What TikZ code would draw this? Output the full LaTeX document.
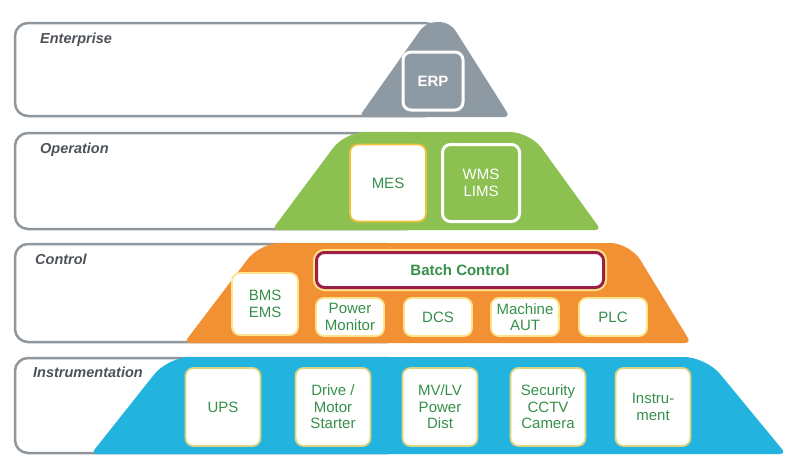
\documentclass[tikz,border=0pt]{standalone}
\usepackage{fontspec}
\setmainfont{Liberation Sans}
\definecolor{bandgray}{HTML}{8F979D}
\definecolor{entgray}{HTML}{8E9AA3}
\definecolor{opgreen}{HTML}{8CC152}
\definecolor{ctlorange}{HTML}{F29133}
\definecolor{insblue}{HTML}{22B3DF}
\definecolor{itemgreen}{HTML}{37904A}
\definecolor{labelgray}{HTML}{4D5259}
\definecolor{batchred}{HTML}{9C1F47}
\definecolor{opgold}{HTML}{EFC23E}
\definecolor{ctlyellow}{HTML}{FDE38C}
\definecolor{insyellow}{HTML}{DCD47E}
\tikzset{%
  band/.style     = {draw=bandgray, line width=2.5pt, rounded corners=13pt},%
  tiername/.style = {anchor=base west, inner sep=0pt, text=labelgray,%
                     font=\fontsize{14.5}{16}\selectfont\bfseries\itshape},%
  item/.style     = {shape=rectangle, rounded corners=8pt, draw, line width=1.8pt,%
                     fill=white, text=itemgreen, align=center, inner sep=0pt,%
                     font=\fontsize{15}{16.5}\selectfont},%
  invitem/.style  = {item, draw=white, line width=3pt, text=white},%
  opbox/.style    = {item, draw=opgold, minimum width=76pt, minimum height=77pt},%
  ctlbox/.style   = {item, draw=ctlyellow, minimum width=68pt, minimum height=38pt},%
  insbox/.style   = {item, draw=insyellow, minimum width=75pt, minimum height=78pt},%
  batchbox/.style = {item, draw=batchred, line width=3pt, font=\fontsize{15}{16}\selectfont\bfseries,%
                     preaction={draw=ctlyellow, line width=7pt}}%
}

\begin{document}
\begin{tikzpicture}[x=1pt,y=-1pt]
	\useasboundingbox (0,0) rectangle (800,475);
	% enterprise
	\draw[band] (15,23) rectangle (438,116);
	\fill[entgray] (435,117) [rounded corners=6pt] -- (359,117) [rounded corners=10pt] -- (426,22) -- (450,22) [rounded corners=6pt] -- (510,117) -- cycle;
	\node[tiername] (ent) at (40,43) {Enterprise};
	\node[invitem, fill=entgray, minimum width=60pt, minimum height=58pt, font=\fontsize{15}{16}\selectfont\bfseries] (erp) at (433,81) {ERP};
	% operation
	\draw[band] (15,133) rectangle (420,229);
	\fill[opgreen] (436,230) [rounded corners=6pt] -- (272,230) [rounded corners=20pt] -- (345,132) -- (530,132) [rounded corners=6pt] -- (601,230) -- cycle;
	\node[tiername] (op) at (40,153) {Operation};
	\node[opbox] (mes) at (388,183) {MES};
	\node[invitem, fill=opgreen, minimum width=77pt, minimum height=77pt] (wms) at (481,183) {WMS\\LIMS};
	% control
	\draw[band] (15,244) rectangle (400,342);
	\fill[ctlorange] (437,343) [rounded corners=6pt] -- (184,343) [rounded corners=20pt] -- (260,243) -- (630,243) [rounded corners=6pt] -- (691,343) -- cycle;
	\node[tiername] (ctl) at (35,264) {Control};
	\node[batchbox, minimum width=287pt, minimum height=35pt] (batch) at (460,270) {Batch Control};
	\node[ctlbox, minimum width=66pt, minimum height=62pt] (bms) at (265,304) {BMS\\EMS};
	\node[ctlbox] (pwr) at (350,317) {Power\\Monitor};
	\node[ctlbox] (dcs) at (438,317) {DCS};
	\node[ctlbox] (aut) at (525,317) {Machine\\AUT};
	\node[ctlbox] (plc) at (613,317) {PLC};
	% instrumentation
	\draw[band] (15,358) rectangle (400,453);
	\fill[insblue] (438,454) [rounded corners=6pt] -- (91,454) [rounded corners=22pt] -- (168,357) -- (706,357) [rounded corners=6pt] -- (786,454) -- cycle;
	\node[tiername] (ins) at (33,377) {Instrumentation};
	\node[insbox] (ups) at (223,407) {UPS};
	\node[insbox] (drv) at (333,407) {Drive /\\Motor\\Starter};
	\node[insbox] (dist) at (440,407) {MV/LV\\Power\\Dist};
	\node[insbox] (cctv) at (548,407) {Security\\CCTV\\Camera};
	\node[insbox] (inst) at (653,407) {Instru-\\ment};
\end{tikzpicture}
\end{document}
